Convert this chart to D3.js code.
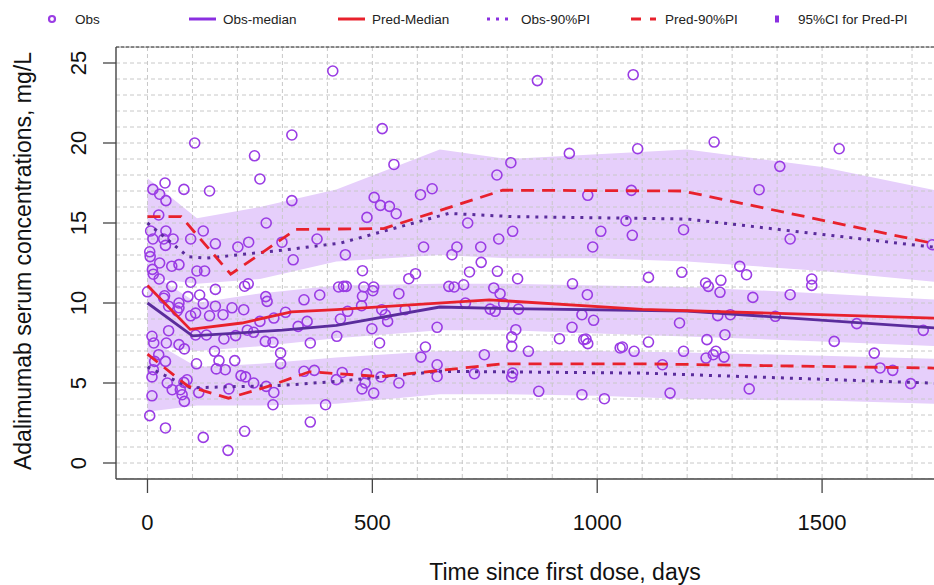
<!DOCTYPE html>
<html>
<head>
<meta charset="utf-8">
<script src="https://d3js.org/d3.v7.min.js"></script>
<style>
body { margin: 0; background: #fff; }
svg { display: block; font-family: "Liberation Sans", Arial, sans-serif; }
</style>
</head>
<body>
<svg id="chart" width="934" height="585"></svg>
<script>

// observed concentrations: time since first dose (days) / conc (mg/L)
var obs_time = [321,105,238,250,12,39,81,138,27,41,321,25,264,7,41,124,12,36,57,96,151,225,201,299,377,40,5,6,27,54,70,110,127,324,11,13,26,96,216,224,54,151,0,263,266,348,383,425,
  38,70,70,66,47,36,90,116,124,96,107,138,151,168,188,214,250,281,307,335,355,362,47,107,131,170,196,222,236,262,279,296,296,10,14,42,70,82,149,109,159,153,173,194,25,16,40,13,10,44,55,73,81,88,77,82,114,181,208,218,236,264,281,279,348,371,396,10,5,40,124,179,216,362,421,
  412,867,522,548,938,777,808,633,607,504,518,538,553,488,979,712,440,812,781,1008,990,614,688,677,741,742,716,778,478,596,581,823,945,436,442,481,503,670,682,703,770,1090,1076,1064,1078,978,478,501,559,476,521,534,529,573,707,784,792,762,773,825,966,992,429,445,499,516,644,819,810,810,944,916,975,979,1056,1082,618,608,644,749,847,644,727,812,810,870,966,1016,433,420,487,484,477,503,519,559,970,1051,1080,
  1260,1538,1406,1360,1192,1429,1745,1114,1188,1317,1332,1241,1247,1275,1477,1477,1273,1346,1429,1183,1268,1296,1396,1577,1725,1114,1192,1244,1284,1264,1258,1242,1282,1145,1527,1616,1629,1657,1697,1162,1338];
var obs_conc = [20.5,20.0,19.2,17.75,17.1,17.5,17.1,17.0,16.8,16.4,16.4,15.5,15.0,14.5,14.5,14.5,14.0,14.0,14.0,14.0,13.7,13.8,13.5,13.8,14.0,13.6,13.2,12.9,12.5,12.3,12.4,12.0,12.0,12.7,12.1,11.8,11.5,11.3,11.05,11.2,11.04,10.85,10.7,10.4,10.1,10.2,10.5,11.0,
  10.45,10.0,9.7,9.5,9.8,10.3,10.4,10.5,9.96,9.2,9.37,9.2,9.8,9.27,9.7,9.58,8.85,9.06,9.42,8.54,8.85,7.5,8.27,8.0,8.0,7.75,7.96,8.3,8.17,7.6,7.54,6.88,6.21,7.92,7.5,7.5,7.4,7.13,6.98,6.2,6.4,5.88,5.83,6.4,6.77,6.35,6.35,5.83,5.38,5.0,4.58,4.58,5.04,5.2,4.27,3.85,4.4,4.63,5.46,5.38,5.0,4.79,4.41,3.64,5.73,5.79,3.64,4.2,2.96,2.19,1.6,0.79,1.98,2.56,7.92,
  24.5,23.9,20.9,18.66,19.35,18.0,18.77,17.14,16.77,16.6,16.1,16.04,15.58,15.35,16.73,15.0,13.02,14.48,14.0,14.48,13.5,13.5,13.5,13.02,13.5,12.54,11.94,11.98,12.02,11.83,11.52,11.52,11.2,11.04,11.04,11.0,11.0,11.04,11.0,11.14,10.94,19.64,17.04,15.14,14.23,10.52,10.42,10.77,10.58,9.83,9.58,8.85,9.27,9.58,10.0,10.58,9.96,9.62,9.48,9.62,9.27,8.92,9.0,9.48,8.39,7.5,8.48,8.33,7.88,7.29,8.48,7.77,7.75,7.46,7.25,6.98,7.25,6.62,6.14,6.77,6.98,5.41,5.58,5.62,5.38,4.48,4.27,4.02,5.66,5.21,5.58,5.0,4.63,4.37,5.38,5.0,7.71,7.19,24.27,
  20.06,19.64,18.54,17.08,14.58,14.0,13.64,11.6,11.92,12.29,11.77,11.25,11.04,11.42,11.5,11.1,10.67,10.35,10.52,8.75,9.21,9.27,9.17,8.71,8.29,7.56,6.98,7.71,8.02,6.98,6.77,6.56,6.62,6.14,7.6,6.87,5.94,5.79,4.96,4.37,4.63];

// 95% CI bands of the predicted percentiles
var band_time = [0, 110, 250, 420, 650, 800, 1000, 1200, 1500, 1760];
var p95_ci_hi = [17.8, 15.3, 16.0, 17.1, 19.6, 19.0, 19.3, 19.6, 18.5, 17.0];
var p95_ci_lo = [11.6, 11.2, 11.5, 12.6, 13.0, 12.8, 12.8, 12.6, 12.0, 11.3];
var p50_ci_hi = [12.0, 10.0, 10.6, 11.1, 11.2, 11.2, 11.1, 11.0, 10.6, 10.2];
var p50_ci_lo = [7.4, 7.0, 7.3, 7.8, 8.3, 8.3, 8.1, 7.9, 7.6, 7.3];
var p5_ci_hi = [7.8, 6.0, 6.2, 6.6, 7.0, 7.0, 7.0, 6.9, 6.7, 6.5];
var p5_ci_lo = [3.2, 3.6, 3.6, 3.7, 4.3, 4.3, 4.2, 4.0, 3.9, 3.7];

// observed percentiles
var obs_med_time = [0, 100, 300, 420, 650, 800, 1200, 1760];
var obs_med = [10.0, 7.95, 8.3, 8.6, 9.75, 9.65, 9.5, 8.42];
var obs_p95_time = [0, 90, 130, 300, 430, 540, 670, 810, 1200, 1760];
var obs_p95 = [15.0, 12.9, 12.8, 13.3, 13.75, 14.6, 15.6, 15.4, 15.25, 13.45];
var obs_p5_time = [0, 95, 300, 420, 650, 1100, 1760];
var obs_p5 = [6.0, 4.7, 4.85, 5.1, 5.73, 5.62, 4.98];

// predicted percentiles
var pred_med_time = [0, 95, 210, 320, 420, 760, 1100, 1760];
var pred_med = [11.1, 8.35, 8.75, 9.45, 9.58, 10.2, 9.6, 9.05];
var pred_p95_time = [0, 75, 185, 330, 525, 790, 1190, 1760];
var pred_p95 = [15.4, 15.4, 11.8, 14.6, 14.65, 17.05, 17.0, 13.65];
var pred_p5_time = [0, 90, 180, 270, 360, 520, 790, 1100, 1760];
var pred_p5 = [6.8, 4.8, 4.05, 4.8, 5.7, 5.4, 6.2, 6.2, 5.93];

var x_ticks = [0, 500, 1000, 1500];
var y_ticks = [0, 5, 10, 15, 20, 25];

var x_label = "Time since first dose, days";
var y_label = "Adalimumab serum concentrations, mg/L";

var purple = "#9a3ce4";
var dark_purple = "#5a2c9c";
var red = "#e8212c";
var band_fill = "#e6cffb";

var svg = d3.select("#chart");

var p_left = 116, p_right = 966, p_top = 47, p_bottom = 479;

var x_scale = d3.scaleLinear().domain([-70, 1820]).range([p_left, p_right]);
var y_scale = d3.scaleLinear().domain([-1, 26]).range([p_bottom, p_top]);

svg.append("defs").append("clipPath")
  .attr("id", "plotclip")
  .append("rect")
  .attr("x", p_left).attr("y", p_top)
  .attr("width", p_right - p_left).attr("height", p_bottom - p_top);

var plot = svg.append("g").attr("clip-path", "url(#plotclip)");

// bands
var area = d3.area()
  .x(function(d) { return x_scale(d.t); })
  .y0(function(d) { return y_scale(d.lo); })
  .y1(function(d) { return y_scale(d.hi); });

[[p95_ci_lo, p95_ci_hi], [p50_ci_lo, p50_ci_hi], [p5_ci_lo, p5_ci_hi]].forEach(function(b) {
  var rows = band_time.map(function(t, i) { return {t: t, lo: b[0][i], hi: b[1][i]}; });
  plot.append("path")
    .datum(rows)
    .attr("d", area)
    .attr("fill", band_fill);
});

// grid
plot.selectAll(".hgrid")
  .data(d3.range(-1, 27))
  .enter()
  .append("line")
  .attr("x1", p_left).attr("x2", p_right)
  .attr("y1", function(d) { return y_scale(d); })
  .attr("y2", function(d) { return y_scale(d); })
  .attr("stroke", "#c8c8c8")
  .attr("stroke-width", 1)
  .attr("stroke-dasharray", "4,3");

plot.selectAll(".vgrid")
  .data(d3.range(0, 1900, 100))
  .enter()
  .append("line")
  .attr("y1", p_top).attr("y2", p_bottom)
  .attr("x1", function(d) { return x_scale(d); })
  .attr("x2", function(d) { return x_scale(d); })
  .attr("stroke", "#c8c8c8")
  .attr("stroke-width", 1)
  .attr("stroke-dasharray", "4,3");

// observations
plot.selectAll(".obs")
  .data(obs_time)
  .enter()
  .append("circle")
  .attr("cx", function(d) { return x_scale(d); })
  .attr("cy", function(d, i) { return y_scale(obs_conc[i]); })
  .attr("r", 5)
  .attr("fill", "none")
  .attr("stroke", purple)
  .attr("stroke-width", 1.6);

// percentile lines
var line = d3.line()
  .x(function(d) { return x_scale(d[0]); })
  .y(function(d) { return y_scale(d[1]); });

function draw_line(times, vals, color, dash, width) {
  plot.append("path")
    .datum(d3.zip(times, vals))
    .attr("d", line)
    .attr("fill", "none")
    .attr("stroke", color)
    .attr("stroke-width", width)
    .attr("stroke-dasharray", dash);
}

draw_line(obs_p95_time, obs_p95, dark_purple, "3,6", 3);
draw_line(obs_p5_time, obs_p5, dark_purple, "3,6", 3);
draw_line(pred_p95_time, pred_p95, red, "13,8", 2.8);
draw_line(pred_p5_time, pred_p5, red, "13,8", 2.8);
draw_line(obs_med_time, obs_med, dark_purple, null, 2.8);
draw_line(pred_med_time, pred_med, red, null, 2.8);

// box
svg.append("line").attr("x1", p_left).attr("x2", p_right).attr("y1", p_top).attr("y2", p_top)
  .attr("stroke", "#9a9a9a").attr("stroke-width", 1.2);
svg.append("line").attr("x1", p_left).attr("x2", p_right).attr("y1", p_top).attr("y2", p_top)
  .attr("stroke", "#444").attr("stroke-width", 1.2).attr("stroke-dasharray", "3,2");
svg.append("line").attr("x1", p_left).attr("x2", p_right).attr("y1", p_bottom).attr("y2", p_bottom)
  .attr("stroke", "#444").attr("stroke-width", 1.4);
svg.append("line").attr("x1", p_left).attr("x2", p_left).attr("y1", p_top).attr("y2", p_bottom)
  .attr("stroke", "#444").attr("stroke-width", 1.4);

// axes
svg.selectAll(".xtick")
  .data(x_ticks)
  .enter()
  .append("line")
  .attr("x1", function(d) { return x_scale(d); })
  .attr("x2", function(d) { return x_scale(d); })
  .attr("y1", p_bottom).attr("y2", p_bottom + 14)
  .attr("stroke", "#444").attr("stroke-width", 1.3);

svg.selectAll(".xlab")
  .data(x_ticks)
  .enter()
  .append("text")
  .attr("x", function(d) { return x_scale(d); })
  .attr("y", 522)
  .attr("text-anchor", "middle")
  .attr("dominant-baseline", "central")
  .style("font-size", "22px")
  .style("fill", "#111")
  .text(function(d) { return d; });

svg.selectAll(".ytick")
  .data(y_ticks)
  .enter()
  .append("line")
  .attr("x1", p_left - 13).attr("x2", p_left)
  .attr("y1", function(d) { return y_scale(d); })
  .attr("y2", function(d) { return y_scale(d); })
  .attr("stroke", "#444").attr("stroke-width", 1.3);

svg.selectAll(".ylab")
  .data(y_ticks)
  .enter()
  .append("text")
  .attr("transform", function(d) { return "translate(78," + y_scale(d) + ") rotate(-90)"; })
  .attr("text-anchor", "middle")
  .attr("dominant-baseline", "central")
  .style("font-size", "22px")
  .style("fill", "#111")
  .text(function(d) { return d; });

svg.append("text")
  .attr("x", 565).attr("y", 572)
  .attr("text-anchor", "middle")
  .attr("dominant-baseline", "central")
  .style("font-size", "23px")
  .style("fill", "#111")
  .text(x_label);

svg.append("text")
  .attr("transform", "translate(23,261) rotate(-90)")
  .attr("text-anchor", "middle")
  .attr("dominant-baseline", "central")
  .style("font-size", "23px")
  .style("fill", "#111")
  .text(y_label);

// legend
var legend_labels = ["Obs", "Obs-median", "Pred-Median", "Obs-90%PI", "Pred-90%PI", "95%CI for Pred-PI"];
var legend_x = [52, 189, 338, 487, 631, 777];
var ly = 19;
var lg = svg.append("g");

lg.selectAll("text")
  .data(legend_labels)
  .enter()
  .append("text")
  .attr("x", function(d, i) { return legend_x[i] + (i == 0 ? 23 : (i == 5 ? 21 : 34)); })
  .attr("y", ly)
  .attr("dominant-baseline", "central")
  .style("font-size", "13.5px")
  .style("fill", "#222")
  .text(function(d) { return d; });

lg.append("circle").attr("cx", legend_x[0]).attr("cy", ly).attr("r", 3)
  .attr("fill", "none").attr("stroke", purple).attr("stroke-width", 2.2);
lg.append("line").attr("x1", legend_x[1]).attr("x2", legend_x[1] + 27).attr("y1", ly).attr("y2", ly)
  .attr("stroke", "#8a2fe0").attr("stroke-width", 3);
lg.append("line").attr("x1", legend_x[2]).attr("x2", legend_x[2] + 27).attr("y1", ly).attr("y2", ly)
  .attr("stroke", red).attr("stroke-width", 3);
lg.append("line").attr("x1", legend_x[3]).attr("x2", legend_x[3] + 27).attr("y1", ly).attr("y2", ly)
  .attr("stroke", "#8a2fe0").attr("stroke-width", 3).attr("stroke-dasharray", "3,6");
lg.append("line").attr("x1", legend_x[4]).attr("x2", legend_x[4] + 25).attr("y1", ly).attr("y2", ly)
  .attr("stroke", red).attr("stroke-width", 3).attr("stroke-dasharray", "10,9");
lg.append("rect").attr("x", legend_x[5] - 2).attr("y", ly - 3.5).attr("width", 4).attr("height", 7)
  .attr("fill", "#8a2fe0");

</script>
</body>
</html>
